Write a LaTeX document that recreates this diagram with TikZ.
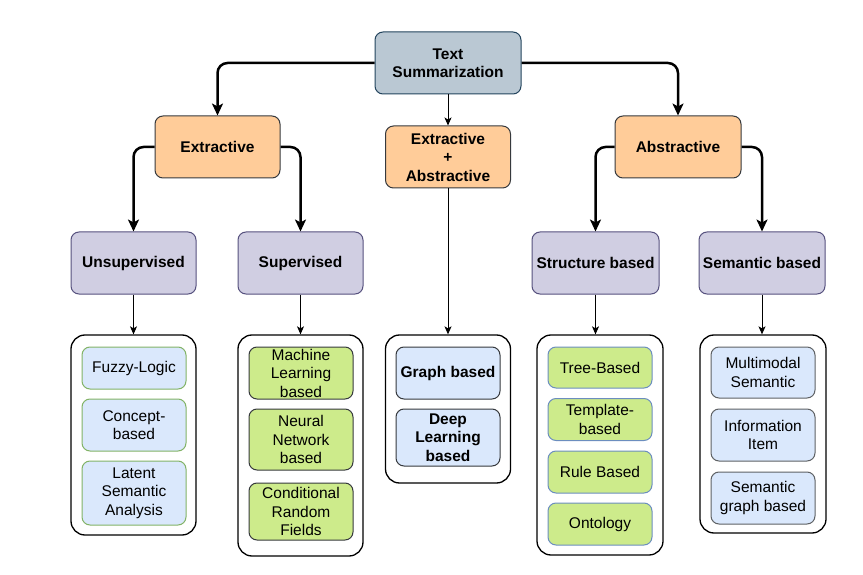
\documentclass[tikz,border=0pt]{standalone}
\usepackage{fontspec}
\setmainfont{Liberation Sans}
\usepackage{tikz}
\usetikzlibrary{positioning}
\usetikzlibrary{shapes}
\usetikzlibrary{arrows.meta}
\usepackage{xcolor}

\definecolor{rootfill}{HTML}{BAC8D3}
\definecolor{rootline}{HTML}{23445D}
\definecolor{orangefill}{HTML}{FFCC99}
\definecolor{darkline}{HTML}{36393D}
\definecolor{purplefill}{HTML}{D0CEE2}
\definecolor{purpleline}{HTML}{56517E}
\definecolor{bluefill}{HTML}{DAE8FC}
\definecolor{blueline}{HTML}{6C8EBF}
\definecolor{greenfill}{HTML}{CDEB8B}
\definecolor{greenline}{HTML}{82B366}

\tikzset{
  box/.style={rectangle,rounded corners=8pt,draw,line width=1pt,inner sep=0pt,align=center,
    font=\fontsize{15.5}{18.5}\selectfont},
  boldtext/.style={font=\fontsize{15.5}{18.5}\selectfont\bfseries},
  sz/.style 2 args={minimum width=#1,minimum height=#2},
  top/.style={box,boldtext,fill=rootfill,draw=rootline},
  method/.style={box,boldtext,fill=orangefill,draw=darkline},
  kind/.style={box,boldtext,fill=purplefill,draw=purpleline},
  group/.style={rectangle,rounded corners=14pt,draw,line width=1.3pt,inner sep=0pt},
  item/.style={box,sz={104pt}{#1}},
}

\begin{document}
\begin{tikzpicture}[x=1pt,y=-1pt]
  \useasboundingbox (0,0) rectangle (863,575);
  % top levels
  \node[top,sz={146pt}{62pt}] (root) at (448,63) {Text\\Summarization};
  \node[method,sz={125pt}{62pt}] (extr) at (217.5,147) {Extractive};
  \node[method,sz={125pt}{62pt}] (mixed) at (448,157) {Extractive\\+\\Abstractive};
  \node[method,sz={126pt}{62pt}] (abstr) at (678,147) {Abstractive};
  \node[kind,sz={125pt}{62pt}] (unsup) at (133.5,263) {Unsupervised};
  \node[kind,sz={125pt}{62pt}] (sup) at (300.5,263) {Supervised};
  \node[kind,sz={127pt}{62pt}] (struct) at (595.5,263) {Structure based};
  \node[kind,sz={126pt}{62pt}] (sem) at (762,263) {Semantic based};
  % groups
  \node[group,sz={125pt}{200pt}] (g1) at (133.5,435) {};
  \node[group,sz={125pt}{221pt}] (g2) at (300.5,445.5) {};
  \node[group,sz={125pt}{148pt}] (g3) at (448,409) {};
  \node[group,sz={126pt}{220pt}] (g4) at (600,445) {};
  \node[group,sz={126pt}{198pt}] (g5) at (763,434) {};
  % items
  \begin{scope}[every node/.append style={fill=bluefill,draw=greenline}]
    \node[item=42pt] (fuzzy) at (134,368) {Fuzzy-Logic};
    \node[item=52pt] (concept) at (134,425) {Concept-\\based};
    \node[item=64pt] (lsa) at (134,493) {Latent\\Semantic\\Analysis};
  \end{scope}
  \begin{scope}[every node/.append style={fill=greenfill,draw=darkline}]
    \node[item=52pt] (ml) at (301,373) {Machine\\Learning\\based};
    \node[item=61pt] (nn) at (301,439.5) {Neural\\Network\\based};
    \node[item=57pt] (crf) at (301,511.5) {Conditional\\Random\\Fields};
  \end{scope}
  \begin{scope}[every node/.append style={fill=bluefill,draw=darkline}]
    \node[item=52pt,boldtext] (graph) at (448,373) {Graph based};
    \node[item=57pt,boldtext] (deep) at (448,437.5) {Deep\\Learning\\based};
  \end{scope}
  \begin{scope}[every node/.append style={fill=greenfill,draw=blueline}]
    \node[item=41pt] (tree) at (600,367.5) {Tree-Based};
    \node[item=42pt] (templ) at (600,419.5) {Template-\\based};
    \node[item=42pt] (rule) at (600,472) {Rule Based};
    \node[item=42pt] (onto) at (600,524) {Ontology};
  \end{scope}
  \begin{scope}[every node/.append style={fill=bluefill,draw=darkline!80}]
    \node[item=51pt] (multi) at (763,372.5) {Multimodal\\Semantic};
    \node[item=52pt] (info) at (763,435) {Information\\Item};
    \node[item=52pt] (semgraph) at (763,498) {Semantic\\graph based};
  \end{scope}
  % connectors
  \begin{scope}[every path/.style={-{Stealth[length=12pt,width=11pt,inset=3pt]},line width=2.5pt,rounded corners=10pt}]
    \draw (root.west) -| (extr.north);
    \draw (root.east) -| (abstr.north);
    \draw (extr.west) -| (unsup.north);
    \draw (extr.east) -| (sup.north);
    \draw (abstr.west) -| (struct.north);
    \draw (abstr.east) -| (sem.north);
  \end{scope}
  \begin{scope}[every path/.style={-{Stealth[length=8pt,width=7pt,inset=2pt]},line width=1pt}]
    \draw (root) -- (mixed);
    \draw (mixed) -- (g3);
    \draw (unsup) -- (unsup.south |- g1.north);
    \draw (sup) -- (sup.south |- g2.north);
    \draw (struct) -- (struct.south |- g4.north);
    \draw (sem) -- (sem.south |- g5.north);
  \end{scope}
\end{tikzpicture}
\end{document}
